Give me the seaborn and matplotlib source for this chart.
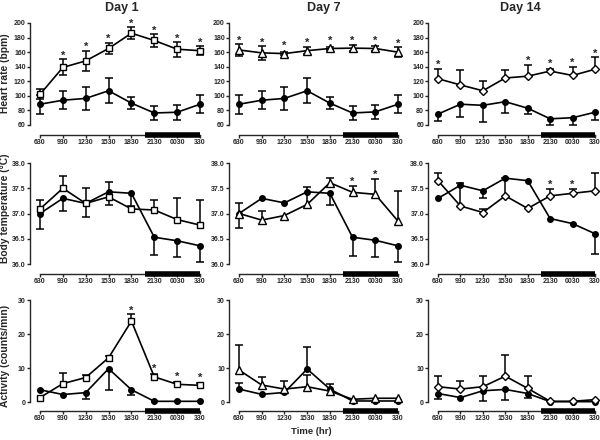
import numpy as np
import pandas as pd
import matplotlib.pyplot as plt
import seaborn as sns
from matplotlib.ticker import FormatStrFormatter

# Time points (x axis) and panel titles
times = ['630', '930', '1230', '1530', '1830', '2130', '0030', '330']
days = ['Day 1', 'Day 7', 'Day 14']
row_labels = ['Heart rate (bpm)', 'Body temperature (°C)', 'Activity (counts/min)']

# error convention: + = bar drawn upward, - = bar drawn downward
# (heart rate day 1 / day 7 are drawn both ways)

# Heart rate
hr_d1_trt = [102, 139, 148, 165, 186, 176, 164, 162]
hr_d1_trt_err = [7, 11, 14, 8, 8.5, 9, 10, 6]
hr_d1_ctl = [88.5, 94, 96.5, 107, 90, 76.5, 77.5, 88.5]
hr_d1_ctl_err = [13, 12, 16, 17, 8.5, 9, 10, 12]
hr_d7_trt = [163, 159, 158, 162, 165, 165.5, 165, 160]
hr_d7_trt_err = [8, 9.5, 2, 5, 2, 4, 4, 7]
hr_d7_ctl = [88.5, 94, 96.5, 107, 90, 76.5, 78, 88.5]
hr_d7_ctl_err = [13, 12, 16, 17, 8.5, 9, 10, 12]
hr_d14_trt = [123.5, 115, 107, 124.5, 127, 134, 128, 136.5]
hr_d14_trt_err = [14, 21, 14, 11, 16, 3, 12, 17]
hr_d14_ctl = [75, 88.5, 87, 92, 83, 68.5, 70, 77.5]
hr_d14_ctl_err = [-10, -17.5, -22.5, -16, -8.5, -9, -10, -10]

# Body temperature
bt_d1_trt = [37.09, 37.5, 37.2, 37.33, 37.09, 37.07, 36.88, 36.77]
bt_d1_trt_err = [0.18, 0.25, 0.3, -0.16, 0, 0.2, 0.42, 0.5]
bt_d1_ctl = [37.0, 37.3, 37.2, 37.43, 37.4, 36.53, 36.46, 36.36]
bt_d1_ctl_err = [-0.31, -0.25, -0.26, 0.19, -0.25, -0.36, -0.33, -0.32]
bt_d7_trt = [37.0, 36.87, 36.96, 37.18, 37.61, 37.42, 37.38, 36.85]
bt_d7_trt_err = [0.21, 0.17, 0, 0.34, 0.09, 0.13, 0.31, 0.6]
bt_d7_ctl = [37.0, 37.3, 37.21, 37.43, 37.4, 36.53, 36.47, 36.36]
bt_d7_ctl_err = [-0.29, 0, 0, 0, -0.24, -0.37, -0.34, -0.32]
bt_d14_trt = [37.65, 37.15, 37.02, 37.35, 37.1, 37.35, 37.4, 37.45]
bt_d14_trt_err = [0.15, 0.45, 0.07, 0.35, 0, 0.14, 0.09, 0.35]
bt_d14_ctl = [37.3, 37.56, 37.45, 37.7, 37.65, 36.9, 36.8, 36.6]
bt_d14_ctl_err = [0, 0, -0.14, 0, 0, 0, 0, -0.4]

# Activity
act_d1_trt = [1.3, 5.4, 7.2, 13.0, 23.8, 7.4, 5.2, 4.9]
act_d1_trt_err = [0, 3, 0.7, 0.5, 2, 0.8, 0.8, 0.6]
act_d1_ctl = [3.6, 2.2, 2.75, 9.8, 3.6, 0.2, 0.2, 0.2]
act_d1_ctl_err = [0, 0, -1.8, -6.4, -1.4, 0, 0, 0]
act_d7_trt = [9.4, 5.0, 3.8, 4.5, 3.2, 0.8, 1.1, 1.1]
act_d7_trt_err = [7.4, 2.3, 2.4, 3.4, 2.1, 0, 0, 0]
act_d7_ctl = [3.8, 2.25, 2.8, 9.7, 3.8, 0.3, 0.3, 0.3]
act_d7_ctl_err = [1.7, 0, 0, 6.6, 0, 0, 0, 0]
act_d14_trt = [4.5, 3.8, 4.5, 7.6, 4.0, 0.2, 0.2, 0.7]
act_d14_trt_err = [3.1, 2.4, 3.2, 6.3, 3.7, 0, 0, 0]
act_d14_ctl = [2.5, 1.3, 3.3, 3.7, 2.5, 0.1, 0.1, 0.1]
act_d14_ctl_err = [-1.5, 0, -3.1, -3.2, -1.2, 0, 0, 0]

# significance stars (index into times)
stars_hr = [[1, 2, 3, 4, 5, 6, 7], [0, 1, 2, 3, 4, 5, 6, 7], [0, 4, 5, 6, 7]]
stars_bt = [[], [5, 6], [5, 6]]
stars_act = [[4, 5, 6, 7], [], []]

hr_ticks = [60, 80, 100, 120, 140, 160, 180, 200]
bt_ticks = [36.0, 36.5, 37.0, 37.5, 38.0]
act_ticks = [0, 10, 20, 30]

dark_start = 4.6  # lights off, between 1830 and 2130

panels = [
    [(hr_d1_trt, hr_d1_trt_err, hr_d1_ctl, hr_d1_ctl_err),
     (hr_d7_trt, hr_d7_trt_err, hr_d7_ctl, hr_d7_ctl_err),
     (hr_d14_trt, hr_d14_trt_err, hr_d14_ctl, hr_d14_ctl_err)],
    [(bt_d1_trt, bt_d1_trt_err, bt_d1_ctl, bt_d1_ctl_err),
     (bt_d7_trt, bt_d7_trt_err, bt_d7_ctl, bt_d7_ctl_err),
     (bt_d14_trt, bt_d14_trt_err, bt_d14_ctl, bt_d14_ctl_err)],
    [(act_d1_trt, act_d1_trt_err, act_d1_ctl, act_d1_ctl_err),
     (act_d7_trt, act_d7_trt_err, act_d7_ctl, act_d7_ctl_err),
     (act_d14_trt, act_d14_trt_err, act_d14_ctl, act_d14_ctl_err)],
]
stars = [stars_hr, stars_bt, stars_act]
ticks = [hr_ticks, bt_ticks, act_ticks]
both_ways = {(0, 0), (0, 1)}
markers = [('s', 5.0), ('^', 5.4), ('D', 4.4)]

sns.set_style('ticks')
plt.rcParams['font.family'] = ['Liberation Sans', 'DejaVu Sans']

W, H = 600, 440
fig = plt.figure(figsize=(6, 4.4), dpi=100)

# layout in pixels
col_px = [(29.7, 174.9), (228.8, 173.7), (427.9, 171.6)]
row_px = [(19.35, 135), (160.5, 274), (296.6, 411)]
ylims = [(46.27, 205), (35.802, 38.05), (-2.647, 31)]
xlim = (-0.45, 7.2)
x = np.arange(len(times))


def draw_errors(ax, y, lo, hi, z):
    y = np.asarray(y, float)
    for arr, sign in ((hi, 1), (lo, -1)):
        m = arr > 0
        if not m.any():
            continue
        ends = y[m] + sign * arr[m]
        ax.vlines(x[m], y[m], ends, color='black', lw=1.1, zorder=z)
        ax.plot(x[m], ends, ls='none', marker='_', ms=5.5, mew=1.1,
                color='black', zorder=z)


for r in range(3):
    top, bot = row_px[r]
    for c in range(3):
        left, width = col_px[c]
        ax = fig.add_axes([left / W, 1 - bot / H, width / W, (bot - top) / H])
        ax.patch.set_alpha(0)
        trt, trt_err, ctl, ctl_err = panels[r][c]
        mk, ms = markers[c]

        hi_lo = {}
        for name, y, err, face, z in (('ctl', ctl, ctl_err, 'black', 2),
                                      ('trt', trt, trt_err, 'white', 3)):
            err = np.asarray(err, float)
            if (r, c) in both_ways:
                lo = hi = np.abs(err)
            else:
                hi = np.where(err > 0, err, 0)
                lo = np.where(err < 0, -err, 0)
            hi_lo[name] = hi
            draw_errors(ax, y, lo, hi, z - 0.5)
            df = pd.DataFrame({'time': x, 'value': y})
            sns.lineplot(data=df, x='time', y='value', ax=ax, color='black',
                         lw=1.2, marker='o' if name == 'ctl' else mk,
                         markersize=4.0 if name == 'ctl' else ms,
                         markerfacecolor=face, markeredgecolor='black',
                         markeredgewidth=1.0, zorder=z, legend=False)

        ax.set_xlim(*xlim)
        ax.set_ylim(*ylims[r])
        ax.set_xticks(x)
        ax.set_xticklabels(times)
        ax.set_yticks(ticks[r])
        if r == 1:
            ax.yaxis.set_major_formatter(FormatStrFormatter('%.1f'))
        ax.set_xlabel('')
        ax.set_ylabel('')
        sns.despine(ax=ax)
        ax.spines['left'].set_bounds(ticks[r][0], ticks[r][-1])
        ax.spines['bottom'].set_bounds(0, 7)
        for s in ('left', 'bottom'):
            ax.spines[s].set_linewidth(1.0)
        ax.tick_params(axis='both', length=2.2, width=1.0, pad=0.6,
                       labelsize=5.0)
        for lbl in ax.get_xticklabels() + ax.get_yticklabels():
            lbl.set_fontweight('bold')

        # dark period bar on the x axis
        ax.plot([dark_start, 7], [ylims[r][0]] * 2, color='black', lw=4,
                solid_capstyle='butt', clip_on=False, zorder=5)

        # stars
        for i in stars[r][c]:
            p0 = ax.transData.transform((i, trt[i]))[1]
            p1 = ax.transData.transform((i, trt[i] + hi_lo['trt'][i]))[1]
            off = max(p1 - p0, 4.0) + 3.5
            ax.annotate('*', (i, trt[i]), xytext=(0, off * 72 / 100),
                        textcoords='offset points', ha='center', va='center',
                        fontsize=8, fontweight='bold', annotation_clip=False)

# titles and labels
for xc, d in zip([122, 324, 520], days):
    fig.text(xc / W, 1 - 7.5 / H, d, ha='center', va='center',
             fontsize=9, fontweight='bold')
for yc, lab in zip([73.5, 208, 356], row_labels):
    fig.text(5.5 / W, 1 - yc / H, lab, rotation=90, ha='center',
             va='center', fontsize=7.4, fontweight='bold')
fig.text(311 / W, 1 - 431 / H, 'Time (hr)', ha='center', va='center',
         fontsize=6.8, fontweight='bold')

plt.savefig('out.png', dpi=100)
